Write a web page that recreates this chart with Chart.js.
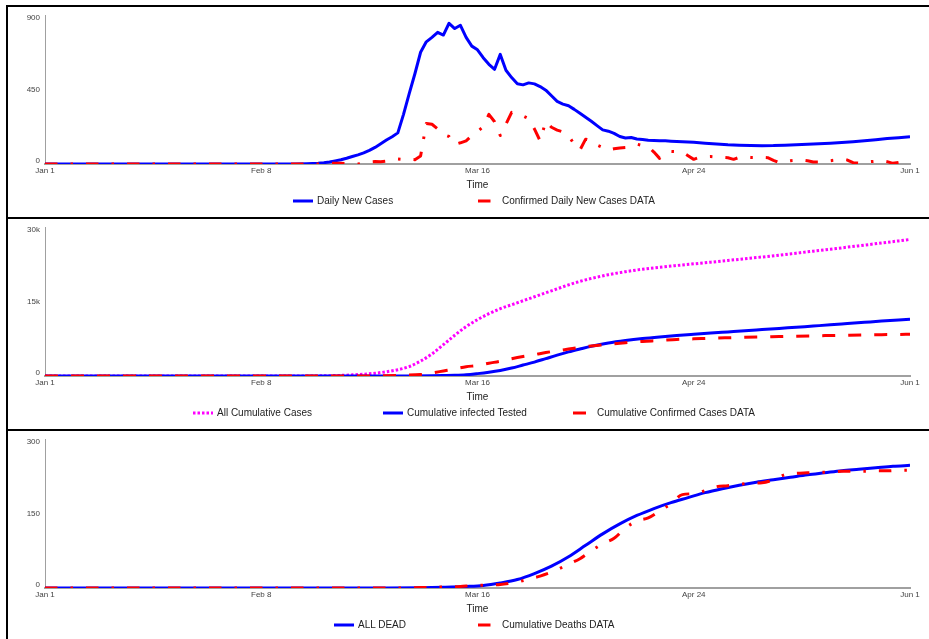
<!DOCTYPE html>
<html>
<head>
<meta charset="utf-8">
<script src="https://cdn.jsdelivr.net/npm/chart.js@4"></script>
<style>
  html, body { margin: 0; padding: 0; background: #fff; overflow: hidden; }
  body { width: 929px; height: 639px; position: relative; font-family: "Liberation Sans", Arial, sans-serif; }
  #frame { position: absolute; left: 6px; top: 5px; width: 1000px; height: 700px;
           border-left: 2px solid #000; border-top: 2px solid #000; }
  .panel { position: relative; width: 921px; height: 210px; border-bottom: 2px solid #000; }
  .panel canvas { position: absolute; left: 0; top: 0; }
  .legend { position: absolute; top: 186px; height: 16px; display: flex; font-size: 10px;
            line-height: 16px; color: #222; white-space: nowrap; }
  .item { display: flex; align-items: center; flex-shrink: 0; }
  .item svg { margin-right: 4px; flex-shrink: 0; }
</style>
</head>
<body>
<div id="frame">
  <div class="panel"><canvas id="c1" width="921" height="210"></canvas><div class="legend" id="l1"></div></div>
  <div class="panel"><canvas id="c2" width="921" height="210"></canvas><div class="legend" id="l2"></div></div>
  <div class="panel"><canvas id="c3" width="921" height="210"></canvas><div class="legend" id="l3"></div></div>
</div>
<script>
// ---- time axis (day number from Jan 1) ----
const dayTicks = [0, 38, 76, 114, 152];
const dayTickLabels = ['Jan 1', 'Feb 8', 'Mar 16', 'Apr 24', 'Jun 1'];

// ---- panel 1: daily new cases ----
const newCasesTicks = [0, 450, 900];
const newCasesTickLabels = ['0', '450', '900'];
const newCasesDays = [0, 44, 46,
  48, 49, 50, 51, 52, 53, 54, 55, 56, 57, 58, 59, 60, 61, 62, 63, 64, 65, 66, 67, 68, 69,
  70, 71, 72, 73, 74, 75, 76, 77, 78, 79, 80, 81, 82, 83, 84, 85, 86, 87, 88, 89,
  90, 91, 92, 93, 94, 95, 96, 97, 98, 99, 100, 101, 102, 103, 104, 105, 106, 107, 108, 109, 110,
  112, 114, 116, 118, 120, 122, 124, 126, 128, 130, 132, 134, 136, 138, 140, 142, 144, 146, 148, 150, 152];
const dailyNewCases = [0, 0, 2,
  5, 8, 12, 19, 26, 35, 45, 55, 67, 82, 100, 122, 145, 165, 188, 300, 425, 545, 675, 738, 765, 795,
  779, 850, 818, 838, 765, 712, 690, 642, 602, 572, 662, 566, 522, 485, 478, 490, 484, 468, 446, 412,
  378, 362, 352, 330, 306, 282, 258, 232, 206, 198, 185, 166, 157, 160, 151, 148, 143, 142, 141, 140, 138,
  135, 131, 126, 121, 116, 113, 111, 110, 111, 114, 117, 120, 123, 126, 130, 135, 141, 147, 154, 159, 165];
// reported daily counts, one value per day starting on day 44
const confirmedDailyFrom = 44;
const confirmedDaily = [
  0, 0, 0, 0, 0,
  2, 4, 5, 5, 3, 1, 0,
  6, 13, 15, 14, 18, 25, 30, 27, 28, 26,
  48, 245, 240, 212, 178, 166, 118, 128, 140, 172,
  196, 225, 300, 255, 172, 240, 312, 305, 290, 274,
  212, 140, 258, 222, 205, 194, 172, 118, 84, 150,
  142, 114, 100, 85, 92, 97, 100, 108, 120, 112,
  105, 72, 34, 62, 76, 75, 72, 50, 28, 40,
  44, 45, 42, 40, 38, 28, 40, 42, 40, 40,
  40, 38, 22, 8, 15, 20, 22, 24, 20, 12,
  12, 16, 20, 24, 28, 24, 8, 5, 10, 14,
  17, 20, 14, 4, 10, 18, 28];

// ---- panel 2: cumulative cases ----
const cumulativeTicks = [0, 15000, 30000];
const cumulativeTickLabels = ['0', '15k', '30k'];
const allCasesDays = [0, 45, 48, 50, 52, 54, 56, 58, 60, 62, 64, 66, 68, 70, 72, 74, 76, 78, 80, 82, 84,
  86, 88, 90, 92, 94, 96, 99, 102, 105, 108, 111, 114, 117, 120, 123, 126, 129, 132, 135, 138, 141, 144, 147, 150, 152];
const allCumulativeCases = [0, 0, 20, 60, 130, 230, 360, 560, 850, 1270, 1900, 3000, 4450, 6300, 8200, 9950,
  11350, 12550, 13550, 14350, 15150, 15950, 16750, 17550, 18350, 19050, 19650, 20400, 21000, 21500, 21900,
  22250, 22580, 22920, 23260, 23610, 23960, 24340, 24730, 25130, 25530, 25940, 26350, 26780, 27200, 27500];
const testedDays = [0, 60, 64, 68, 70, 72, 74, 76, 78, 80, 82, 84, 86, 88, 90, 92, 94, 96, 99, 102, 105,
  108, 111, 114, 117, 120, 123, 126, 129, 132, 135, 138, 141, 144, 147, 150, 152];
const cumulativeTested = [0, 0, 15, 50, 90, 140, 250, 480, 760, 1120, 1600, 2200, 2800, 3500, 4200, 4850,
  5430, 5980, 6650, 7150, 7550, 7870, 8150, 8400, 8640, 8870, 9100, 9340, 9580, 9820, 10060, 10300, 10550,
  10800, 11050, 11280, 11420];
const confirmedCumDays = [0, 56, 60, 63, 66, 68, 70, 72, 74, 76, 78, 80, 82, 84, 86, 88, 90, 92, 94, 96, 99,
  102, 105, 108, 111, 114, 117, 120, 123, 126, 129, 132, 135, 138, 141, 144, 147, 150, 152];
const cumulativeConfirmed = [0, 0, 60, 150, 300, 620, 1020, 1420, 1860, 2120, 2570, 2980, 3480, 3920, 4300,
  4720, 5080, 5420, 5760, 6030, 6380, 6700, 6960, 7150, 7370, 7480, 7600, 7700, 7790, 7870, 7950, 8020,
  8090, 8160, 8220, 8280, 8330, 8370, 8400];

// ---- panel 3: deaths ----
const deathTicks = [0, 150, 300];
const deathTickLabels = ['0', '150', '300'];
const deadDays = [0, 60, 66, 70, 74, 77, 80, 83, 86, 89, 92, 95, 98, 101, 104, 107, 110, 113, 116, 119,
  122, 125, 128, 131, 134, 137, 140, 143, 146, 149, 152];
const allDead = [0, 0, 0.5, 1.5, 3, 5, 10, 17, 29, 44, 63, 86, 109, 129, 146, 160, 172, 182, 192, 200,
  207, 213, 218, 223, 228, 232, 236, 239, 242, 245, 247];
const deathDataDays = [0, 62, 66, 70, 73, 75, 78, 80, 82, 83, 85, 87, 89, 90, 92, 94, 96, 98, 100, 102,
  104, 106, 108, 110, 112, 114, 116, 118, 120, 122, 124, 126, 128, 130, 132, 134, 136, 138, 140, 142,
  144, 146, 148, 150, 152];
const cumulativeDeaths = [0, 0, 1, 2, 3, 5, 6, 7, 10, 12, 18, 24, 32, 37, 48, 59, 75, 89, 100, 121,
  135, 141, 155, 170, 188, 190, 196, 204, 206, 209, 211, 212, 218, 228, 231, 232, 233, 233, 235, 235,
  235, 236, 236, 237, 237];

// ---- helpers ----
const FONT = '"Liberation Sans", Arial, sans-serif';
const BLUE = '#0000ff', RED = '#ff0000', MAGENTA = '#ff00ff', AXIS = '#a0a0a0';
const DASH_DOT = [12.5, 13, 2.5, 13];
const DASHED = [13, 13];
const DOTTED = [2.5, 2];

function pts(days, values) { return values.map((v, i) => ({ x: days[i], y: v })); }
function dailyPts(from, values) {
  return [{ x: 0, y: 0 }].concat(values.map((v, i) => ({ x: from + i, y: v })));
}

// y tick labels: lowest sits above its tick, highest hangs below it
const innerYLabels = {
  id: 'innerYLabels',
  afterDraw(chart, args, opts) {
    const s = chart.scales.y, ctx = chart.ctx, n = opts.values.length;
    ctx.save();
    ctx.font = '8px ' + FONT;
    ctx.fillStyle = '#444';
    ctx.textAlign = 'right';
    opts.values.forEach((v, i) => {
      const y = s.getPixelForValue(v);
      ctx.textBaseline = i === 0 ? 'bottom' : (i === n - 1 ? 'top' : 'middle');
      ctx.fillText(opts.labels[i], s.right - 5, i === 0 ? y + 1 : (i === n - 1 ? y - 1 : y));
    });
    ctx.restore();
  }
};

function lineSet(label, data, color, dash, order, smooth) {
  return {
    label, data, borderColor: color, backgroundColor: color, borderWidth: 3,
    borderDash: dash, borderJoinStyle: 'round', pointRadius: 0, order,
    tension: 0, cubicInterpolationMode: smooth ? 'monotone' : 'default', fill: false
  };
}

function makeChart(id, legendId, datasets, yMax, yTicks, yLabels) {
  const chart = new Chart(document.getElementById(id), {
    type: 'line',
    data: { datasets },
    options: {
      responsive: false, animation: false, events: [],
      layout: { padding: { left: 0, right: 19, top: 8, bottom: 26 } },
      plugins: { legend: { display: false }, tooltip: { enabled: false },
                 innerYLabels: { values: yTicks, labels: yLabels } },
      scales: {
        x: {
          type: 'linear', min: dayTicks[0], max: dayTicks[dayTicks.length - 1],
          afterBuildTicks: s => { s.ticks = dayTicks.map(v => ({ value: v })); },
          ticks: {
            autoSkip: false, maxRotation: 0, padding: 2, color: '#444',
            font: { size: 8, family: FONT },
            callback: v => dayTickLabels[dayTicks.indexOf(v)] ?? ''
          },
          grid: { display: false, drawTicks: false },
          border: { display: true, color: AXIS, width: 2 },
          title: { display: true, text: 'Time', color: '#222', font: { size: 10, family: FONT },
                   padding: { top: 0, bottom: 0 } },
          afterFit: s => { s.height = 27; }
        },
        y: {
          min: 0, max: yMax,
          afterBuildTicks: s => { s.ticks = yTicks.map(v => ({ value: v })); },
          ticks: { display: false },
          grid: { display: false, drawTicks: false },
          border: { display: true, color: AXIS, width: 1 },
          afterFit: s => { s.width = 37; }
        }
      }
    },
    plugins: [innerYLabels]
  });
  buildLegend(chart, document.getElementById(legendId));
  return chart;
}

// HTML legend: equal-width slots, centred under the plot area
function buildLegend(chart, el) {
  const svgNS = 'http://www.w3.org/2000/svg';
  const items = chart.data.datasets.map(ds => {
    const item = document.createElement('div');
    item.className = 'item';
    const svg = document.createElementNS(svgNS, 'svg');
    svg.setAttribute('width', '20'); svg.setAttribute('height', '4');
    const line = document.createElementNS(svgNS, 'line');
    line.setAttribute('x1', '0'); line.setAttribute('y1', '2');
    line.setAttribute('x2', '20'); line.setAttribute('y2', '2');
    line.setAttribute('stroke', ds.borderColor);
    line.setAttribute('stroke-width', ds.borderWidth);
    if (ds.borderDash && ds.borderDash.length) line.setAttribute('stroke-dasharray', ds.borderDash.join(' '));
    svg.appendChild(line);
    const span = document.createElement('span');
    span.textContent = ds.label;
    item.append(svg, span);
    el.appendChild(item);
    return item;
  });
  const w = Math.ceil(Math.max(...items.map(i => i.getBoundingClientRect().width))) + 7;
  items.forEach(i => { i.style.width = w + 'px'; });
  const mid = (chart.chartArea.left + chart.chartArea.right) / 2;
  el.style.left = Math.round(mid - (w * items.length) / 2) + 'px';
}

makeChart('c1', 'l1', [
  lineSet('Daily New Cases', pts(newCasesDays, dailyNewCases), BLUE, [], 1, false),
  lineSet('Confirmed Daily New Cases DATA', dailyPts(confirmedDailyFrom, confirmedDaily), RED, DASH_DOT, 0, false)
], 900, newCasesTicks, newCasesTickLabels);

makeChart('c2', 'l2', [
  lineSet('All Cumulative Cases', pts(allCasesDays, allCumulativeCases), MAGENTA, DOTTED, 2, true),
  lineSet('Cumulative infected Tested', pts(testedDays, cumulativeTested), BLUE, [], 1, true),
  lineSet('Cumulative Confirmed Cases DATA', pts(confirmedCumDays, cumulativeConfirmed), RED, DASHED, 0, true)
], 30000, cumulativeTicks, cumulativeTickLabels);

makeChart('c3', 'l3', [
  lineSet('ALL DEAD', pts(deadDays, allDead), BLUE, [], 1, true),
  lineSet('Cumulative Deaths DATA', pts(deathDataDays, cumulativeDeaths), RED, DASH_DOT, 0, true)
], 300, deathTicks, deathTickLabels);
</script>
</body>
</html>
